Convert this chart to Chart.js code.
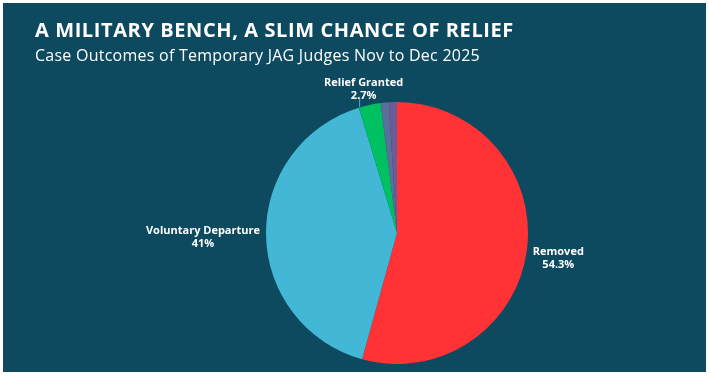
<!DOCTYPE html>
<html>
<head>
<meta charset="utf-8">
<script src="https://cdn.jsdelivr.net/npm/chart.js@4"></script>
<style>
  body { margin: 0; background: #ffffff; }
  #panel {
    position: absolute; left: 3px; top: 3px; width: 703px; height: 369px;
    background: #0d4a60; overflow: hidden;
  }
  #title {
    position: absolute; left: 32px; top: 13px; color: #ffffff;
    font: 700 20px "Open Sans", sans-serif; letter-spacing: 0.6px; white-space: nowrap;
  }
  #subtitle {
    position: absolute; left: 32px; top: 41px; color: #ffffff;
    font: 400 16px "Open Sans", sans-serif; letter-spacing: 0.25px; white-space: nowrap;
  }
  canvas { position: absolute; left: 0; top: 0; }
</style>
</head>
<body>
<div id="panel">
  <canvas id="pie" width="703" height="369"></canvas>
  <div id="title">A MILITARY BENCH, A SLIM CHANCE OF RELIEF</div>
  <div id="subtitle">Case Outcomes of Temporary JAG Judges Nov to Dec 2025</div>
</div>
<script>
// outcome shares (%)
const outcomes = ['Removed', 'Voluntary Departure', 'Relief Granted', 'Terminated', 'Other'];
const shares = [54.3, 41, 2.7, 1.0, 1.0];
const sliceColors = ['#ff3236', '#43b8d6', '#00c162', '#5a6f9c', '#6b5b96'];

// draw outside labels for the bigger slices
const outsideLabels = {
  id: 'outsideLabels',
  afterDatasetsDraw(chart) {
    const ctx = chart.ctx;
    const meta = chart.getDatasetMeta(0);
    ctx.save();
    ctx.fillStyle = '#ffffff';
    ctx.font = '700 11px "Open Sans", sans-serif';
    ctx.textBaseline = 'middle';
    meta.data.forEach((arc, i) => {
      const v = shares[i];
      if (v < 2) return;
      const mid = (arc.startAngle + arc.endAngle) / 2;
      const cx = arc.x, cy = arc.y, r = arc.outerRadius;
      const c = Math.cos(mid), s = Math.sin(mid);
      const pct = v + '%';
      if (Math.abs(c) > 0.5) {
        const x = cx + (r + 6) * c;
        const y = cy + (r + 6) * s;
        // centre the two lines under each other
        const w = Math.max(ctx.measureText(outcomes[i]).width, ctx.measureText(pct).width);
        const mx = c > 0 ? x + w / 2 : x - w / 2;
        const dy = c > 0 ? 0 : -4;
        ctx.textAlign = 'center';
        ctx.fillText(outcomes[i], mx, y + dy);
        ctx.fillText(pct, mx, y + dy + 13);
      } else {
        const x = cx + r * c;
        const y = cy + r * s;
        ctx.strokeStyle = '#43b8d6';
        ctx.lineWidth = 1;
        ctx.beginPath();
        ctx.moveTo(x - 10, y + 2);
        ctx.lineTo(x - 10, y - 8);
        ctx.stroke();
        ctx.textAlign = 'center';
        ctx.fillText(outcomes[i], x - 6, y - 22);
        ctx.fillText(pct, x - 6, y - 9);
      }
    });
    ctx.restore();
  }
};

new Chart(document.getElementById('pie'), {
  type: 'pie',
  data: {
    labels: outcomes,
    datasets: [{
      data: shares,
      backgroundColor: sliceColors,
      borderWidth: 0
    }]
  },
  options: {
    responsive: false,
    animation: false,
    layout: { padding: { top: 99, bottom: 8, left: 263, right: 178 } },
    plugins: {
      legend: { display: false },
      tooltip: { enabled: false }
    }
  },
  plugins: [outsideLabels]
});
</script>
</body>
</html>
